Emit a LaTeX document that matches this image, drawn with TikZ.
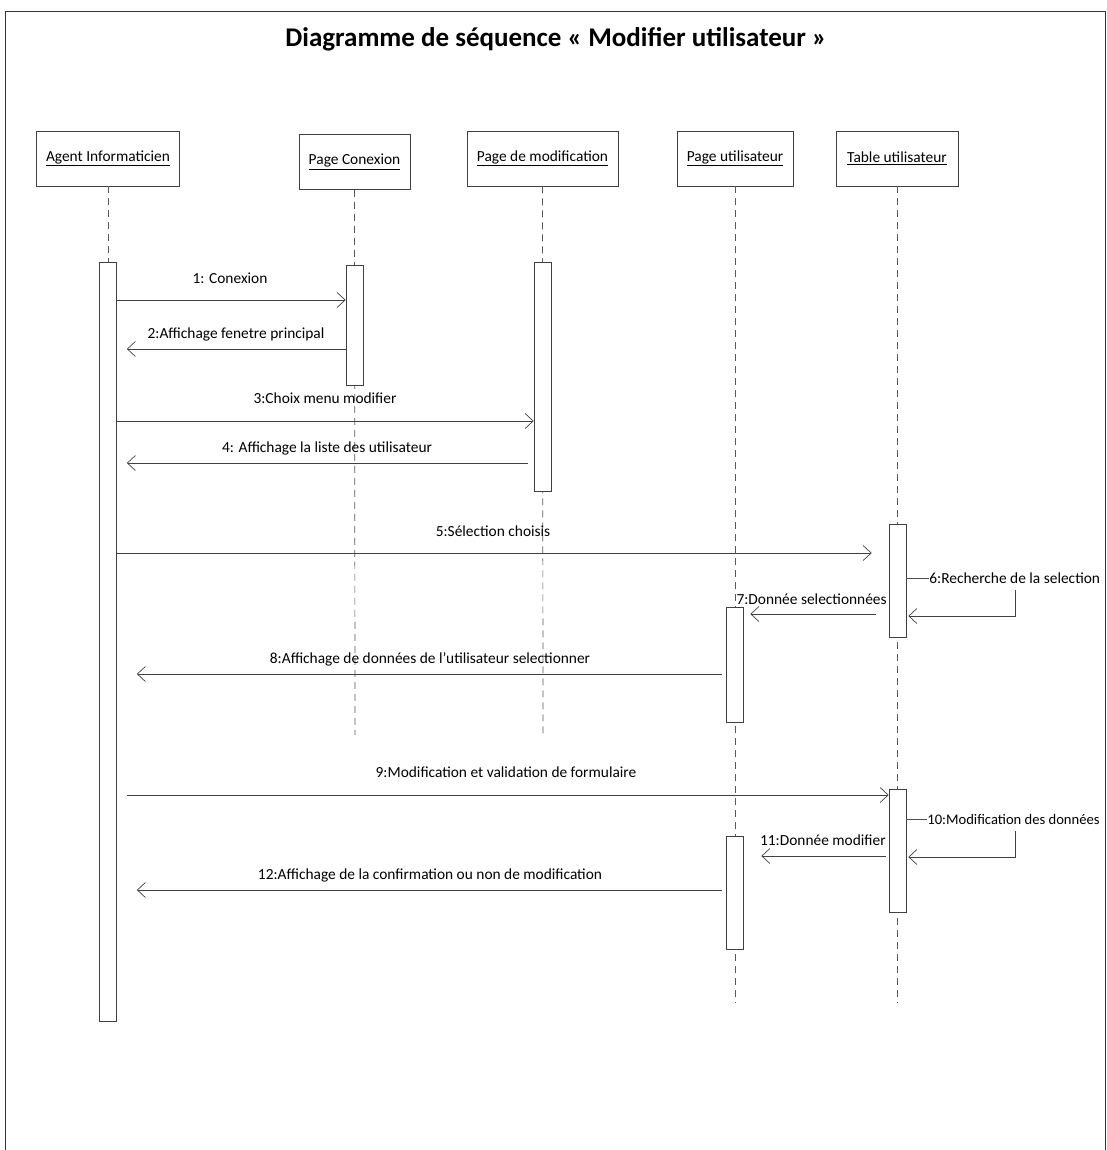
\documentclass[tikz,border=0pt]{standalone}
\usepackage{fontspec}
\setmainfont{Carlito}
\usetikzlibrary{arrows.meta}
\begin{document}
\begin{tikzpicture}[x=1pt,y=-1pt,
  line width=0.7pt,
  ln/.style={draw=black!70},
  head/.style={draw=black!75, fill=white, inner sep=0pt, minimum height=55pt, font=\fontsize{15.4}{18}\selectfont},
  life/.style={draw=black!65, dash pattern=on 7pt off 5pt},
  act/.style={draw=black!75, fill=white, inner sep=0pt, minimum width=17pt},
  msg/.style={draw=black!75, -{Straight Barb[length=8pt,width=15pt]}},
  lbl/.style={font=\fontsize{15.4}{18}\selectfont, inner sep=1pt},
]
\useasboundingbox (0,0) rectangle (1107,1150);
% frame
\draw[black!80, line width=1pt] (5,1150) -- (5,12) -- (1105,12) -- (1105,1150);
% title
\node[font=\bfseries\fontsize{27}{32}\selectfont] (title) at (556,39) {Diagramme de séquence « Modifier utilisateur »};

% lifeline heads
\node[head, minimum width=143pt] (agent) at (108,158.5) {\underline{Agent Informaticien}};
\node[head, minimum width=111pt] (conx) at (354.5,162) {\underline{Page Conexion}};
\node[head, minimum width=151pt] (modif) at (542.5,158.5) {\underline{Page de modification}};
\node[head, minimum width=116pt] (pageu) at (735,158.5) {\underline{Page utilisateur}};
\node[head, minimum width=122pt] (table) at (897,158.5) {\underline{Table utilisateur}};

% lifelines
\coordinate (agentEnd) at (108,262);
\coordinate (conxEnd) at (355,735);
\coordinate (modifEnd) at (543,735);
\coordinate (pageuEnd) at (735,1003);
\coordinate (tableEnd) at (897,1003);
\draw[life] (agent.south) -- (agentEnd);
\draw[life] (conx.south) -- (conxEnd);
\draw[life] (modif.south) -- (modifEnd);
\draw[life] (pageu.south) -- (pageuEnd);
\draw[life] (table.south) -- (tableEnd);

% activation bars
\node[act, minimum height=759pt] (aA) at (108,641.5) {};
\node[act, minimum height=120pt] (aC) at (354.5,325) {};
\node[act, minimum height=229pt] (aM) at (542.5,376.5) {};
\node[act, minimum height=115pt] (aP1) at (734.5,664.5) {};
\node[act, minimum height=113pt] (aP2) at (734.5,892.5) {};
\node[act, minimum height=113pt] (aT1) at (897.5,580.5) {};
\node[act, minimum height=123pt] (aT2) at (897.5,850.5) {};

% messages
\draw[msg] (aA.east |- 0,300) -- (aC.west |- 0,300);
\node[lbl] (m1) at (230,278) {1: Conexion};

\draw[msg] (aC.west |- 0,349) -- ([xshift=10pt]aA.east |- 0,349);
\node[lbl] (m2) at (236,334) {2:Affichage fenetre principal};

\draw[msg] (aA.east |- 0,421) -- (aM.west |- 0,421);
\node[lbl] (m3) at (325,398) {3:Choix menu modifier};

\draw[msg] ([xshift=-6pt]aM.west |- 0,463) -- ([xshift=10pt]aA.east |- 0,463);
\node[lbl] (m4) at (327,448) {4: Affichage la liste des utilisateur};

\draw[msg] (aA.east |- 0,553) -- ([xshift=-17pt]aT1.west |- 0,553);
\node[lbl] (m5) at (493,531) {5:Sélection choisis};

% self message 6
\draw[ln] (aT1.east |- 0,578) -- (929,578);
\node[lbl, anchor=west] (m6) at (928,578) {6:Recherche de la selection};
\draw[msg] (1015,590) -- (1015,616) -- ([xshift=2pt]aT1.east |- 0,616);

\draw[msg] ([xshift=-13pt]aT1.west |- 0,614) -- ([xshift=7pt]aP1.east |- 0,614);
\node[lbl, anchor=east] (m7) at (888,599) {7:Donnée selectionnées};

\draw[msg] ([xshift=-4pt]aP1.west |- 0,674) -- ([xshift=20pt]aA.east |- 0,674);
\node[lbl] (m8) at (430,659) {8:Affichage de données de l'utilisateur selectionner};

\draw[msg] ([xshift=10pt]aA.east |- 0,795) -- (aT2.west |- 0,795);
\node[lbl] (m9) at (506,772) {9:Modification et validation de formulaire};

% self message 10
\draw[ln] (aT2.east |- 0,819) -- (927,819);
\node[lbl, anchor=west, font=\fontsize{14.6}{17}\selectfont] (m10) at (926,819) {10:Modification des données};
\draw[msg] (1015,831) -- (1015,857) -- ([xshift=2pt]aT2.east |- 0,857);

\draw[msg] ([xshift=-3pt]aT2.west |- 0,856) -- ([xshift=18pt]aP2.east |- 0,856);
\node[lbl, anchor=east] (m11) at (887,840) {11:Donnée modifier};

\draw[msg] ([xshift=-4pt]aP2.west |- 0,890) -- ([xshift=20pt]aA.east |- 0,890);
\node[lbl] (m12) at (430,875) {12:Affichage de la confirmation ou non de modification};
\end{tikzpicture}
\end{document}
